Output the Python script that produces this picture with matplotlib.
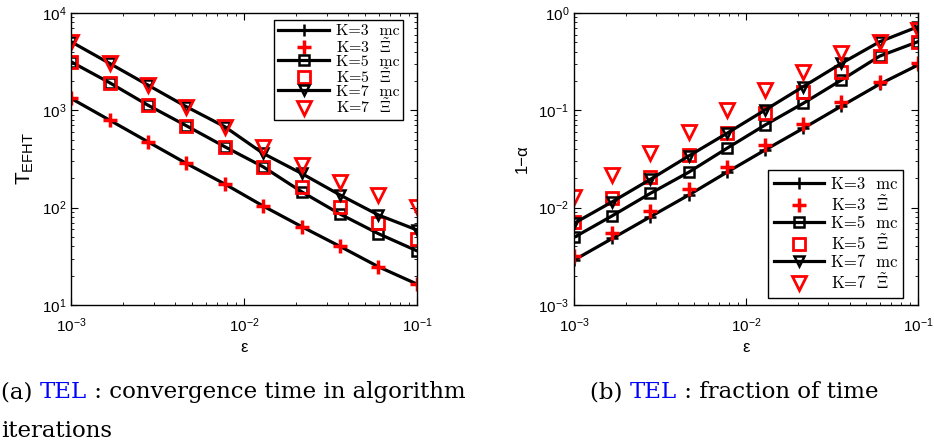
import matplotlib
matplotlib.use('Agg')
import matplotlib.pyplot as plt
from matplotlib.font_manager import FontProperties

plt.rcParams['font.family'] = ['Liberation Sans', 'DejaVu Sans']

# epsilon values (x axis)
eps = [0.001, 0.00167, 0.00278, 0.00464, 0.00774, 0.0129, 0.0215, 0.0359, 0.0599, 0.1]

# (a) convergence time T_EFHT
t3_mc = [1327, 794, 476, 285, 175, 104, 64, 40, 24.7, 16.4]
t3_xi = [1327, 794, 476, 285, 175, 104, 64, 40, 24.7, 16.4]
t5_mc = [3155, 1925, 1132, 695, 423, 263, 146, 86, 54, 36]
t5_xi = [3155, 1925, 1132, 695, 423, 263, 164, 102, 69, 48]
t7_mc = [5070, 3040, 1820, 1090, 679, 361, 225, 135, 84, 59]
t7_xi = [5070, 3040, 1820, 1090, 679, 423, 274, 185, 135, 102]

# (b) fraction of time 1-alpha
a3_mc = [0.00289, 0.00483, 0.00807, 0.01347, 0.0231, 0.0391, 0.0653, 0.1107, 0.186, 0.292]
a3_xi = [0.00318, 0.00552, 0.00923, 0.01542, 0.0260, 0.0440, 0.0723, 0.1226, 0.197, 0.308]
a5_mc = [0.00495, 0.00826, 0.01403, 0.0231, 0.0407, 0.0706, 0.118, 0.205, 0.361, 0.507]
a5_xi = [0.00716, 0.01246, 0.0208, 0.0347, 0.058, 0.0931, 0.155, 0.249, 0.361, 0.507]
a7_mc = [0.0069, 0.0115, 0.01954, 0.0339, 0.058, 0.1007, 0.175, 0.304, 0.507, 0.723]
a7_xi = [0.01294, 0.0216, 0.0361, 0.0603, 0.1007, 0.162, 0.249, 0.385, 0.507, 0.669]

labels = ['K=3  mc', r'K=3  $\tilde{\Xi}$',
          'K=5  mc', r'K=5  $\tilde{\Xi}$',
          'K=7  mc', r'K=7  $\tilde{\Xi}$']

W, H = 934, 447
fig = plt.figure(figsize=(W / 100, H / 100), dpi=100)
ax1 = fig.add_axes([71 / W, 1 - 305 / H, 346 / W, 292 / H])
ax2 = fig.add_axes([574 / W, 1 - 305 / H, 344 / W, 292 / H])


def draw(ax, series):
    marks = ['+', 's', 'v']
    for i, (mc, xi) in enumerate(series):
        m = marks[i]
        ax.plot(eps, mc, '-', color='k', lw=2.3, marker=m, ms=7 if m != '+' else 8,
                mfc='none', mec='k', mew=1.8, label=labels[2 * i])
        ax.plot(eps, xi, ls='none', marker=m, color='red', ms=10 if m == '+' else (8 if m == 's' else 10),
                mfc='none', mec='red', mew=2.5 if m == '+' else 2.0, label=labels[2 * i + 1])
    ax.set_xscale('log')
    ax.set_yscale('log')
    ax.set_xlim(1e-3, 1e-1)
    ax.tick_params(which='both', direction='in', top=True, right=True, labelsize=11)
    ax.tick_params(which='major', length=5)
    ax.tick_params(which='minor', length=2.5)
    ax.tick_params(axis='x', which='both', pad=8)
    for s in ax.spines.values():
        s.set_linewidth(1.0)
    ax.set_xlabel('ε', fontsize=12, labelpad=4)


draw(ax1, [(t3_mc, t3_xi), (t5_mc, t5_xi), (t7_mc, t7_xi)])
ax1.set_ylim(10, 1e4)
ax1.set_ylabel(r'T$_\mathregular{EFHT}$', fontsize=15, labelpad=4)

draw(ax2, [(a3_mc, a3_xi), (a5_mc, a5_xi), (a7_mc, a7_xi)])
ax2.set_ylim(1e-3, 1)
ax2.set_ylabel('1\u2212α', fontsize=12, labelpad=6)

lp_a = FontProperties(family='cmr10', size=11.5, math_fontfamily='cm')
lp_b = FontProperties(family='cmr10', size=12, math_fontfamily='cm')
ax1.legend(loc='upper right', bbox_to_anchor=(0.96, 0.976), prop=lp_a, fancybox=False,
           edgecolor='k', framealpha=1, handlelength=3.2, labelspacing=-0.08,
           borderpad=0.25, handletextpad=0.4, borderaxespad=0).get_frame().set_linewidth(1.0)
ax2.legend(loc='lower right', bbox_to_anchor=(0.956, 0.024), prop=lp_b, fancybox=False,
           edgecolor='k', framealpha=1, handlelength=3.0, labelspacing=0.12,
           borderpad=0.35, handletextpad=0.4, borderaxespad=0).get_frame().set_linewidth(1.0)

# captions under the panels, "TEL" in blue
cap_font = dict(family='DejaVu Serif', fontsize=16.5)
r = fig.canvas.get_renderer()


def caption(x, y, parts):
    for txt, col in parts:
        t = fig.text(x / W, 1 - y / H, txt, color=col, va='baseline', ha='left', **cap_font)
        x += t.get_window_extent(renderer=r).width


caption(1, 398, [('(a) ', 'k'), ('TEL', '#0000ff'), (' : convergence time in algorithm', 'k')])
caption(1, 437, [('iterations', 'k')])
caption(590, 398, [('(b) ', 'k'), ('TEL', '#0000ff'), (' : fraction of time', 'k')])

fig.savefig('out.png', dpi=100)
